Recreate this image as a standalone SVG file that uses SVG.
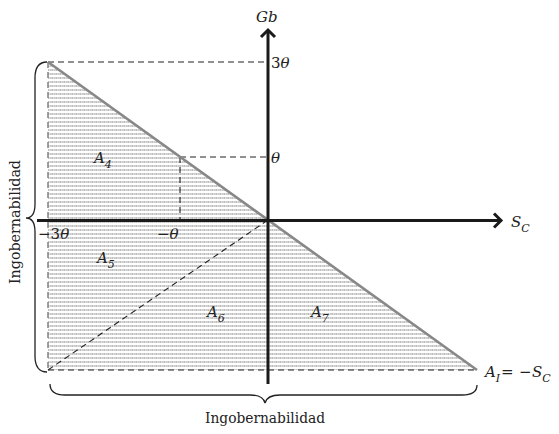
<svg xmlns="http://www.w3.org/2000/svg" width="559" height="434" viewBox="0 0 559 434">
<style>
text{font-family:"DejaVu Serif","Liberation Serif",serif;font-size:15px;fill:#222}
.i{font-style:italic}
.s{font-size:11px}
.d{stroke:#222;stroke-width:1.1;stroke-dasharray:6,4;fill:none}
.ax{stroke:#1a1a1a;stroke-width:3;fill:none}
.br{stroke:#222;stroke-width:1.3;fill:none}
</style>
<defs>
<pattern id="h" width="4" height="4" patternUnits="userSpaceOnUse">
<line x1="0" y1="2" x2="4" y2="2" stroke="#a8a8a8" stroke-width="1.4" stroke-dasharray="1.5,0.7"/>
</pattern>
</defs>
<rect width="559" height="434" fill="#fff"/>
<g id="region">
<polygon points="48,62 477,370 48,370" fill="url(#h)"/>
</g>
<g id="connectors">
<line x1="48" y1="62" x2="268" y2="62" class="d"/>
<line x1="180" y1="157" x2="268" y2="157" class="d"/>
<line x1="180" y1="157" x2="180" y2="220" class="d"/>
<line x1="48" y1="370" x2="477" y2="370" class="d"/>
<line x1="48" y1="370" x2="268" y2="220" class="d"/>
<line x1="48" y1="62" x2="48" y2="370" stroke="#888" stroke-width="1.6" stroke-dasharray="6,4"/>
<line x1="48" y1="62" x2="477" y2="370" stroke="#888" stroke-width="2.6"/>
<line x1="268" y1="30" x2="268" y2="384" class="ax"/>
<polyline points="261,37 268,30 275,37" class="ax" stroke-width="2.5"/>
<line x1="37" y1="220.5" x2="501" y2="220.5" class="ax"/>
<polyline points="494,213.5 501,220.5 494,227.5" class="ax" stroke-width="2.5"/>
<path d="M47,62 Q35,62 35,78 L35,204 Q35,218 26,218 Q35,218 35,232 L35,356 Q35,372 47,372" class="br"/>
<path d="M50,384 Q50,395 65,395 L250,395 Q263,395 265,403 Q267,395 280,395 L462,395 Q477,395 477,385" class="br"/>
</g>
<g id="labels">
<text x="256" y="22" class="i">Gb</text>
<text x="271" y="68">3<tspan class="i">θ</tspan></text>
<text x="271" y="163" class="i">θ</text>
<text x="511" y="227" class="i">S<tspan class="s" dy="5">C</tspan></text>
<text x="38" y="239">−3<tspan class="i">θ</tspan></text>
<text x="157" y="239">−<tspan class="i">θ</tspan></text>
<text x="94" y="163" class="i">A<tspan class="s" dy="5">4</tspan></text>
<text x="97" y="263" class="i">A<tspan class="s" dy="5">5</tspan></text>
<text x="207" y="317" class="i">A<tspan class="s" dy="5">6</tspan></text>
<text x="311" y="317" class="i">A<tspan class="s" dy="5">7</tspan></text>
<text x="485" y="377"><tspan class="i">A</tspan><tspan class="s i" dy="5">I</tspan><tspan dy="-5" x="501">=</tspan><tspan x="519">−</tspan><tspan class="i" x="532">S</tspan><tspan class="s i" dy="5">C</tspan></text>
<text x="265" y="423" text-anchor="middle" textLength="120" lengthAdjust="spacingAndGlyphs">Ingobernabilidad</text>
<text transform="translate(20,222) rotate(-90)" text-anchor="middle" textLength="124" lengthAdjust="spacingAndGlyphs">Ingobernabilidad</text>
</g>
</svg>
